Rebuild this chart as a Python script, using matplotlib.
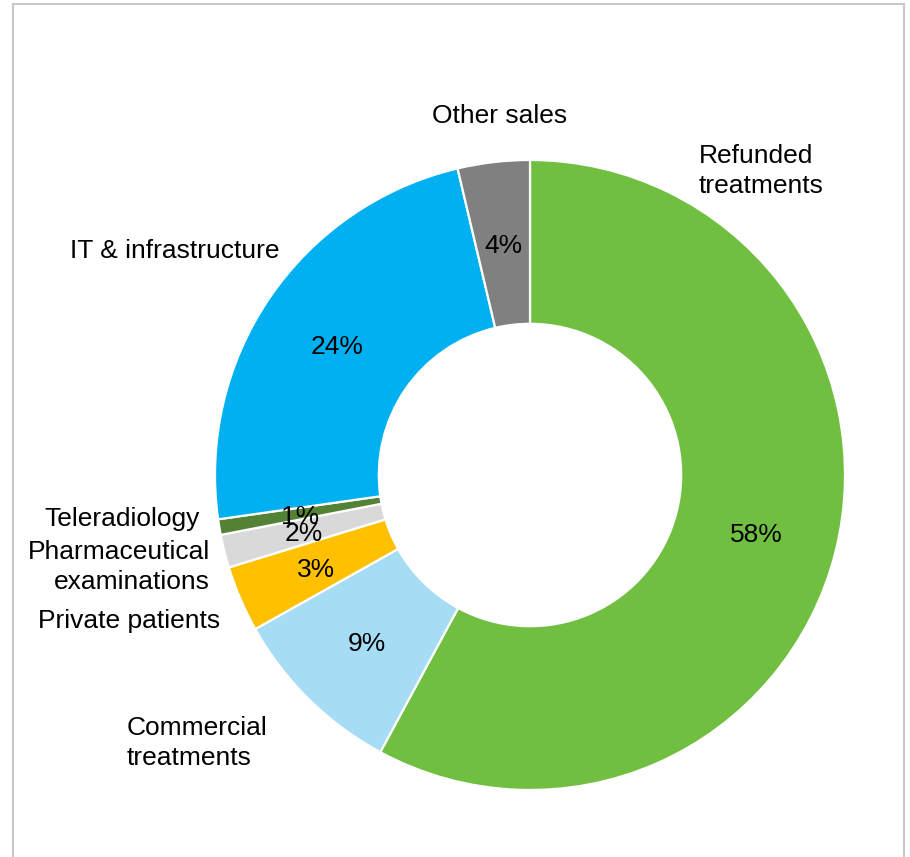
import matplotlib
matplotlib.use("Agg")
import matplotlib.pyplot as plt
from matplotlib.patches import Rectangle

categories = ["Refunded\ntreatments", "Commercial\ntreatments", "Private patients",
              "Pharmaceutical\nexaminations", "Teleradiology", "IT & infrastructure", "Other sales"]
values = [58.0, 9.0, 3.4, 1.7, 0.8, 23.6, 3.7]
colors = ["#70BF41", "#A6DCF4", "#FFC000", "#D9D9D9", "#548235", "#00B0F0", "#808080"]

# label anchor positions (pixel coords, top-left origin) and alignment
label_pos = [(699, 171, "left"), (127, 743, "left"), (220, 621, "right"),
             (210, 567, "right"), (200, 519, "right"), (280, 251, "right"), (500, 116, "center")]

W, H = 910, 857
plt.rcParams['font.family'] = ['Liberation Sans', 'DejaVu Sans']
fig = plt.figure(figsize=(W / 100, H / 100), dpi=100)
ax = fig.add_axes([0, 0, 1, 1])
ax.set_xlim(0, W)
ax.set_ylim(0, H)
ax.set_aspect('equal')
ax.axis('off')

cx, cy, R = 530, H - 475, 315
wedges, texts, autotexts = ax.pie(
    values, colors=colors, startangle=90, counterclock=False,
    center=(cx, cy), radius=R, autopct='%.0f%%', pctdistance=0.74,
    wedgeprops=dict(width=R * 0.52, edgecolor='white', linewidth=1.6),
    textprops=dict(fontsize=19, color='black'), frame=False)
ax.set_xlim(0, W)
ax.set_ylim(0, H)
for t in autotexts:
    x, y = t.get_position()
    t.set_position((x, y - 3))

for cat, (x, y, ha) in zip(categories, label_pos):
    ax.text(x, H - y, cat, ha=ha, va='center', fontsize=19, color='black',
            linespacing=1.33, multialignment=ha)

fig.add_artist(Rectangle((13 / W, -0.01), (904 - 13) / W, 1 - 4 / H + 0.01,
                         transform=fig.transFigure, fill=False,
                         edgecolor='#C8C8C8', linewidth=1.5))

fig.savefig("out.png", dpi=100, facecolor='white')
